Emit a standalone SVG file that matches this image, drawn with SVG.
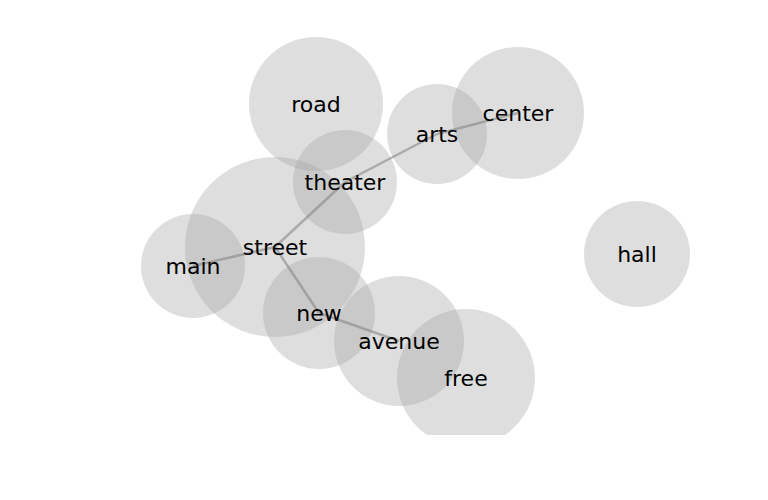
<svg xmlns="http://www.w3.org/2000/svg" width="768" height="500" viewBox="0 0 768 500">
<defs>
<style>
.node circle{fill:#a4a4a4;fill-opacity:0.36}
.node text{font-family:"DejaVu Sans",sans-serif;font-size:22px;fill:#000;text-anchor:middle;dominant-baseline:central}
.edges line{stroke:#808080;stroke-opacity:0.55;stroke-width:2.5}
</style>
<clipPath id="ax"><rect x="0" y="0" width="768" height="435"/></clipPath>
</defs>
<rect width="768" height="500" fill="#fff"/>
<g clip-path="url(#ax)">
<g id="road" class="node"><circle cx="316" cy="104" r="67"/></g>
<g id="center" class="node"><circle cx="518" cy="113" r="66"/></g>
<g id="arts" class="node"><circle cx="437" cy="134" r="50"/></g>
<g id="theater" class="node"><circle cx="345" cy="182" r="52"/></g>
<g id="street" class="node"><circle cx="275" cy="247" r="90"/></g>
<g id="main" class="node"><circle cx="193" cy="266" r="52"/></g>
<g id="new" class="node"><circle cx="319" cy="313" r="56"/></g>
<g id="avenue" class="node"><circle cx="399" cy="341" r="65"/></g>
<g id="free" class="node"><circle cx="466" cy="378" r="69"/></g>
<g id="hall" class="node"><circle cx="637" cy="254" r="53"/></g>
</g>
<g class="edges">
<line x1="193" y1="266" x2="275" y2="247"/>
<line x1="275" y1="247" x2="345" y2="182"/>
<line x1="345" y1="182" x2="437" y2="134"/>
<line x1="437" y1="134" x2="518" y2="113"/>
<line x1="275" y1="247" x2="319" y2="313"/>
<line x1="319" y1="313" x2="399" y2="341"/>
</g>
<g class="node">
<text x="316" y="104">road</text>
<text x="518" y="113">center</text>
<text x="437" y="134">arts</text>
<text x="345" y="182">theater</text>
<text x="275" y="247">street</text>
<text x="193" y="266">main</text>
<text x="319" y="313">new</text>
<text x="399" y="341">avenue</text>
<text x="466" y="378">free</text>
<text x="637" y="254">hall</text>
</g>
</svg>
